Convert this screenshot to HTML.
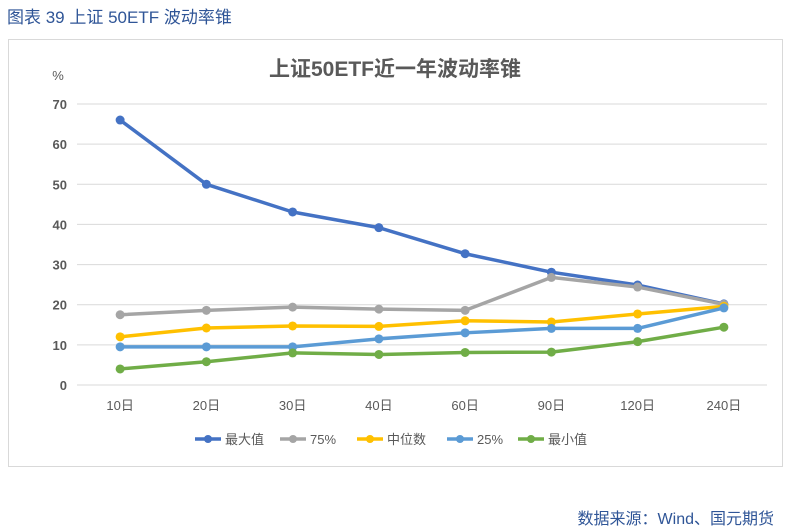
<!DOCTYPE html>
<html><head><meta charset="utf-8"><style>
body{margin:0;width:792px;height:532px;background:#fff;font-family:"Liberation Sans","Noto Sans CJK SC",sans-serif;position:relative;overflow:hidden}
.hdr{position:absolute;left:7px;top:3px;font-size:17px;color:#2f5597}
.box{position:absolute;left:8px;top:39px;width:773px;height:426px;border:1px solid #d9d9d9}
.src{position:absolute;right:18px;top:505px;font-size:16px;color:#2f5597}
</style></head><body>
<div class="hdr">图表 39 上证 50ETF 波动率锥</div>
<div class="box"></div>
<svg id="c" width="792" height="532" style="position:absolute;left:0;top:0"></svg>
<div class="src">数据来源：Wind、国元期货</div>
<script>
const categories=["10日","20日","30日","40日","60日","90日","120日","240日"];
const seriesNames=["最大值","75%","中位数","25%","最小值"];
const seriesColors=["#4472c4","#a5a5a5","#ffc000","#5b9bd5","#70ad47"];
const maxVals=[66,50,43.1,39.2,32.7,28.1,24.9,20.2];
const p75Vals=[17.5,18.6,19.4,18.9,18.6,26.8,24.4,20.1];
const medVals=[12,14.2,14.7,14.6,16,15.7,17.7,19.6];
const p25Vals=[9.5,9.5,9.5,11.5,13,14.1,14.1,19.2];
const minVals=[4,5.8,8,7.6,8.1,8.2,10.8,14.4];
const yTicks=[0,10,20,30,40,50,60,70];
const allSeries=[maxVals,p75Vals,medVals,p25Vals,minVals];
const NS="http://www.w3.org/2000/svg",svg=document.getElementById('c');
const x0=77,x1=767,y0=385,y70=104;
const xs=i=>x0+(x1-x0)/categories.length*(i+0.5);
const ys=v=>y0-(y0-y70)*v/70;
function mk(t,a,txt){const e=document.createElementNS(NS,t);for(const k in a)e.setAttribute(k,a[k]);if(txt!==undefined)e.textContent=txt;svg.appendChild(e);return e;}
let t=mk('text',{x:395,y:76,'text-anchor':'middle','font-size':21,'font-weight':'bold',fill:'#595959'},'上证50ETF近一年波动率锥');


t=mk('text',{x:58,y:80,'text-anchor':'middle','font-size':13,fill:'#595959'},'%');


yTicks.forEach(v=>{
 const l=mk('line',{x1:x0,x2:x1,y1:ys(v),y2:ys(v),stroke:'#d9d9d9','stroke-width':1});
 
 
 const tx=mk('text',{x:67,y:ys(v)+5,'text-anchor':'end','font-size':13,'font-weight':'bold',fill:'#595959'},v);
 
 
});
categories.forEach((c,i)=>{
 const tx=mk('text',{x:xs(i),y:410,'text-anchor':'middle','font-size':13,fill:'#595959'},c);
 
 
});
allSeries.forEach((s,k)=>{
 const p=mk('polyline',{points:s.map((v,i)=>xs(i)+','+ys(v)).join(' '),fill:'none',stroke:seriesColors[k],'stroke-width':3.5,'stroke-linejoin':'round'});
 
 
 s.forEach((v,i)=>{
  const c=mk('circle',{cx:xs(i),cy:ys(v),r:4.5,fill:seriesColors[k]});
  
  
 });
});
const legX=[195,280,357,447,518];
seriesNames.forEach((n,k)=>{
 const x=legX[k];
 const l=mk('line',{x1:x,x2:x+26,y1:439,y2:439,stroke:seriesColors[k],'stroke-width':3.5});
 
 
 const c=mk('circle',{cx:x+13,cy:439,r:4,fill:seriesColors[k]});
 
 
 const tx=mk('text',{x:x+30,y:444,'font-size':13,fill:'#595959'},n);
 
 
});
</script>
</body></html>
